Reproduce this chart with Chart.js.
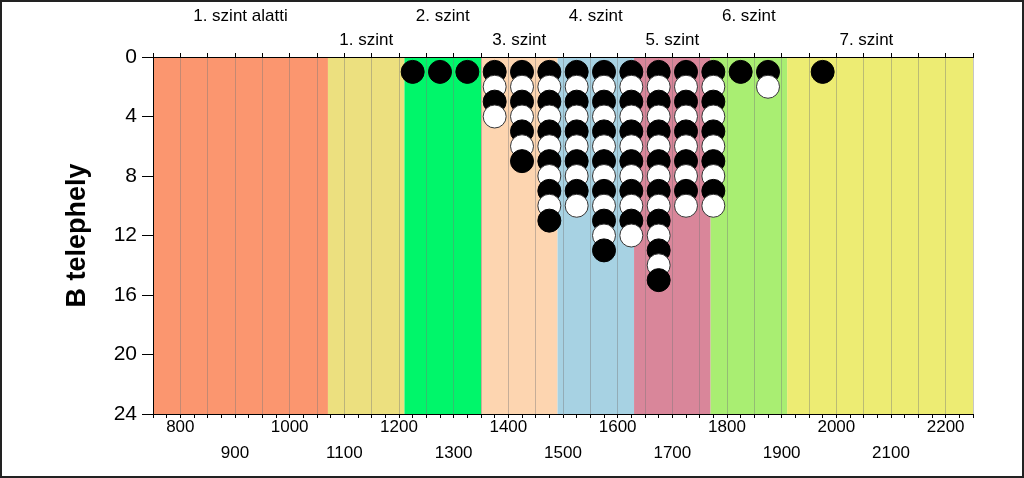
<!DOCTYPE html>
<html>
<head>
<meta charset="utf-8">
<script src="https://cdn.jsdelivr.net/npm/chart.js@4.4.1/dist/chart.umd.min.js"></script>
<style>
    body { margin: 0; background: #fff; }
    .frame { width: 1024px; height: 478px; box-sizing: border-box; border: 2px solid #222; background: #fff; }
    .graph_area { position: relative; width: 1020px; height: 474px; }
</style>
</head>
<body>
<div class="frame">
    <div class="graph_area"><canvas id="levelChart"></canvas></div>
</div>
<script>
    // stacked dot columns (x = bin centre, height = number of dots)
    const columns = [1225, 1275, 1325, 1375, 1425, 1475, 1525, 1575, 1625, 1675, 1725, 1775, 1825, 1875, 1975];
    const stackHeights = [1, 1, 1, 4, 7, 11, 10, 13, 12, 15, 10, 10, 1, 2, 1];

    // background level bands
    const bandEdges = [750, 1070, 1210, 1350, 1490, 1630, 1770, 1910, 2250];
    const bandColors = ['#FB966F', '#ECE07F', '#00F66A', '#FDD5B0', '#A7D2E3', '#D9869A', '#A9EE72', '#EDEC73'];
    const bandNames = ['1. szint alatti', '1. szint', '2. szint', '3. szint', '4. szint', '5. szint', '6. szint', '7. szint'];
    const bandNameX = [910, 1140, 1280, 1420, 1560, 1700, 1840, 2055];

    // axis labels
    const xLabelValues = [800, 900, 1000, 1100, 1200, 1300, 1400, 1500, 1600, 1700, 1800, 1900, 2000, 2100, 2200];
    const yTickValues = [0, 4, 8, 12, 16, 20, 24];

    const xMin = 750, xMax = 2250;
    const fontFamily = '"Liberation Sans", Arial, sans-serif';

    const points = [];
    const fills = [];
    const strokes = [];
    columns.forEach((x, i) => {
        for (let level = 1; level <= stackHeights[i]; level++) {
            points.push({x: x, y: level});
            const black = level % 2 === 1;
            fills.push(black ? '#000000' : '#ffffff');
            strokes.push(black ? '#000000' : '#333333');
        }
    });

    const bandPlugin = {
        id: 'bands',
        beforeDraw(chart) {
            const {ctx, chartArea, scales} = chart;
            ctx.save();
            for (let i = 0; i < bandColors.length; i++) {
                const x0 = scales.x.getPixelForValue(bandEdges[i]);
                const x1 = scales.x.getPixelForValue(bandEdges[i + 1]);
                ctx.fillStyle = bandColors[i];
                ctx.fillRect(x0, chartArea.top, x1 - x0, chartArea.bottom - chartArea.top);
            }
            ctx.restore();
        }
    };

    const gridTickCount = (xMax - xMin) / 50 + 1;

    new Chart(document.getElementById('levelChart').getContext('2d'), {
        type: 'scatter',
        data: {
            datasets: [{
                data: points,
                pointRadius: 11.5,
                pointHoverRadius: 11.5,
                pointBackgroundColor: fills,
                pointBorderColor: strokes,
                pointBorderWidth: 1,
                clip: false
            }]
        },
        plugins: [bandPlugin],
        options: {
            responsive: true,
            maintainAspectRatio: false,
            animation: false,
            layout: {padding: {left: 0, right: 49, top: 0, bottom: 0}},
            plugins: {
                legend: {display: false},
                tooltip: {enabled: false}
            },
            scales: {
                x: {
                    type: 'linear',
                    position: 'bottom',
                    min: xMin,
                    max: xMax,
                    afterFit: (axis) => { axis.height = 62; },
                    border: {color: '#000', width: 1},
                    grid: {
                        color: (c) => c.tick && c.tick.value % 50 === 0 ? 'rgba(120,120,120,0.42)' : 'rgba(0,0,0,0)',
                        tickColor: '#000',
                        tickLength: 4
                    },
                    ticks: {
                        stepSize: 25,
                        autoSkip: false,
                        maxRotation: 0,
                        padding: -3,
                        color: '#000',
                        font: {family: fontFamily, size: 17, lineHeight: 1.5},
                        callback: (v) => {
                            if (!xLabelValues.includes(v)) return '';
                            return (v / 100) % 2 === 0 ? String(v) : ['', String(v)];
                        }
                    }
                },
                x2: {
                    type: 'linear',
                    position: 'top',
                    min: xMin,
                    max: xMax,
                    afterFit: (axis) => { axis.height = 55; },
                    afterBuildTicks: (axis) => {
                        const t = [];
                        for (let v = xMin; v <= xMax; v += 50) t.push({value: v});
                        bandNameX.forEach(v => t.push({value: v}));
                        axis.ticks = t;
                    },
                    border: {color: '#000', width: 1},
                    grid: {
                        drawOnChartArea: false,
                        tickLength: 4,
                        tickColor: (c) => c.index < gridTickCount ? '#000' : 'rgba(0,0,0,0)'
                    },
                    ticks: {
                        autoSkip: false,
                        maxRotation: 0,
                        padding: 0,
                        color: '#000',
                        font: {family: fontFamily, size: 17, lineHeight: 1.44},
                        callback: (v, index) => {
                            if (index < gridTickCount) return '';
                            const i = index - gridTickCount;
                            return i % 2 === 0 ? [bandNames[i], ''] : bandNames[i];
                        }
                    }
                },
                y: {
                    type: 'linear',
                    reverse: true,
                    min: 0,
                    max: 24,
                    afterFit: (axis) => { axis.width = 151; },
                    afterBuildTicks: (axis) => { axis.ticks = yTickValues.map(v => ({value: v})); },
                    border: {color: '#000', width: 1},
                    grid: {drawOnChartArea: false, tickColor: '#000', tickLength: 11},
                    ticks: {
                        padding: 5,
                        color: '#000',
                        font: {family: fontFamily, size: 21}
                    },
                    title: {
                        display: true,
                        text: 'B telephely',
                        color: '#000',
                        padding: {top: 59, bottom: 0},
                        font: {family: fontFamily, size: 27, weight: 'bold', lineHeight: 1.2}
                    }
                }
            }
        }
    });
</script>
</body>
</html>
